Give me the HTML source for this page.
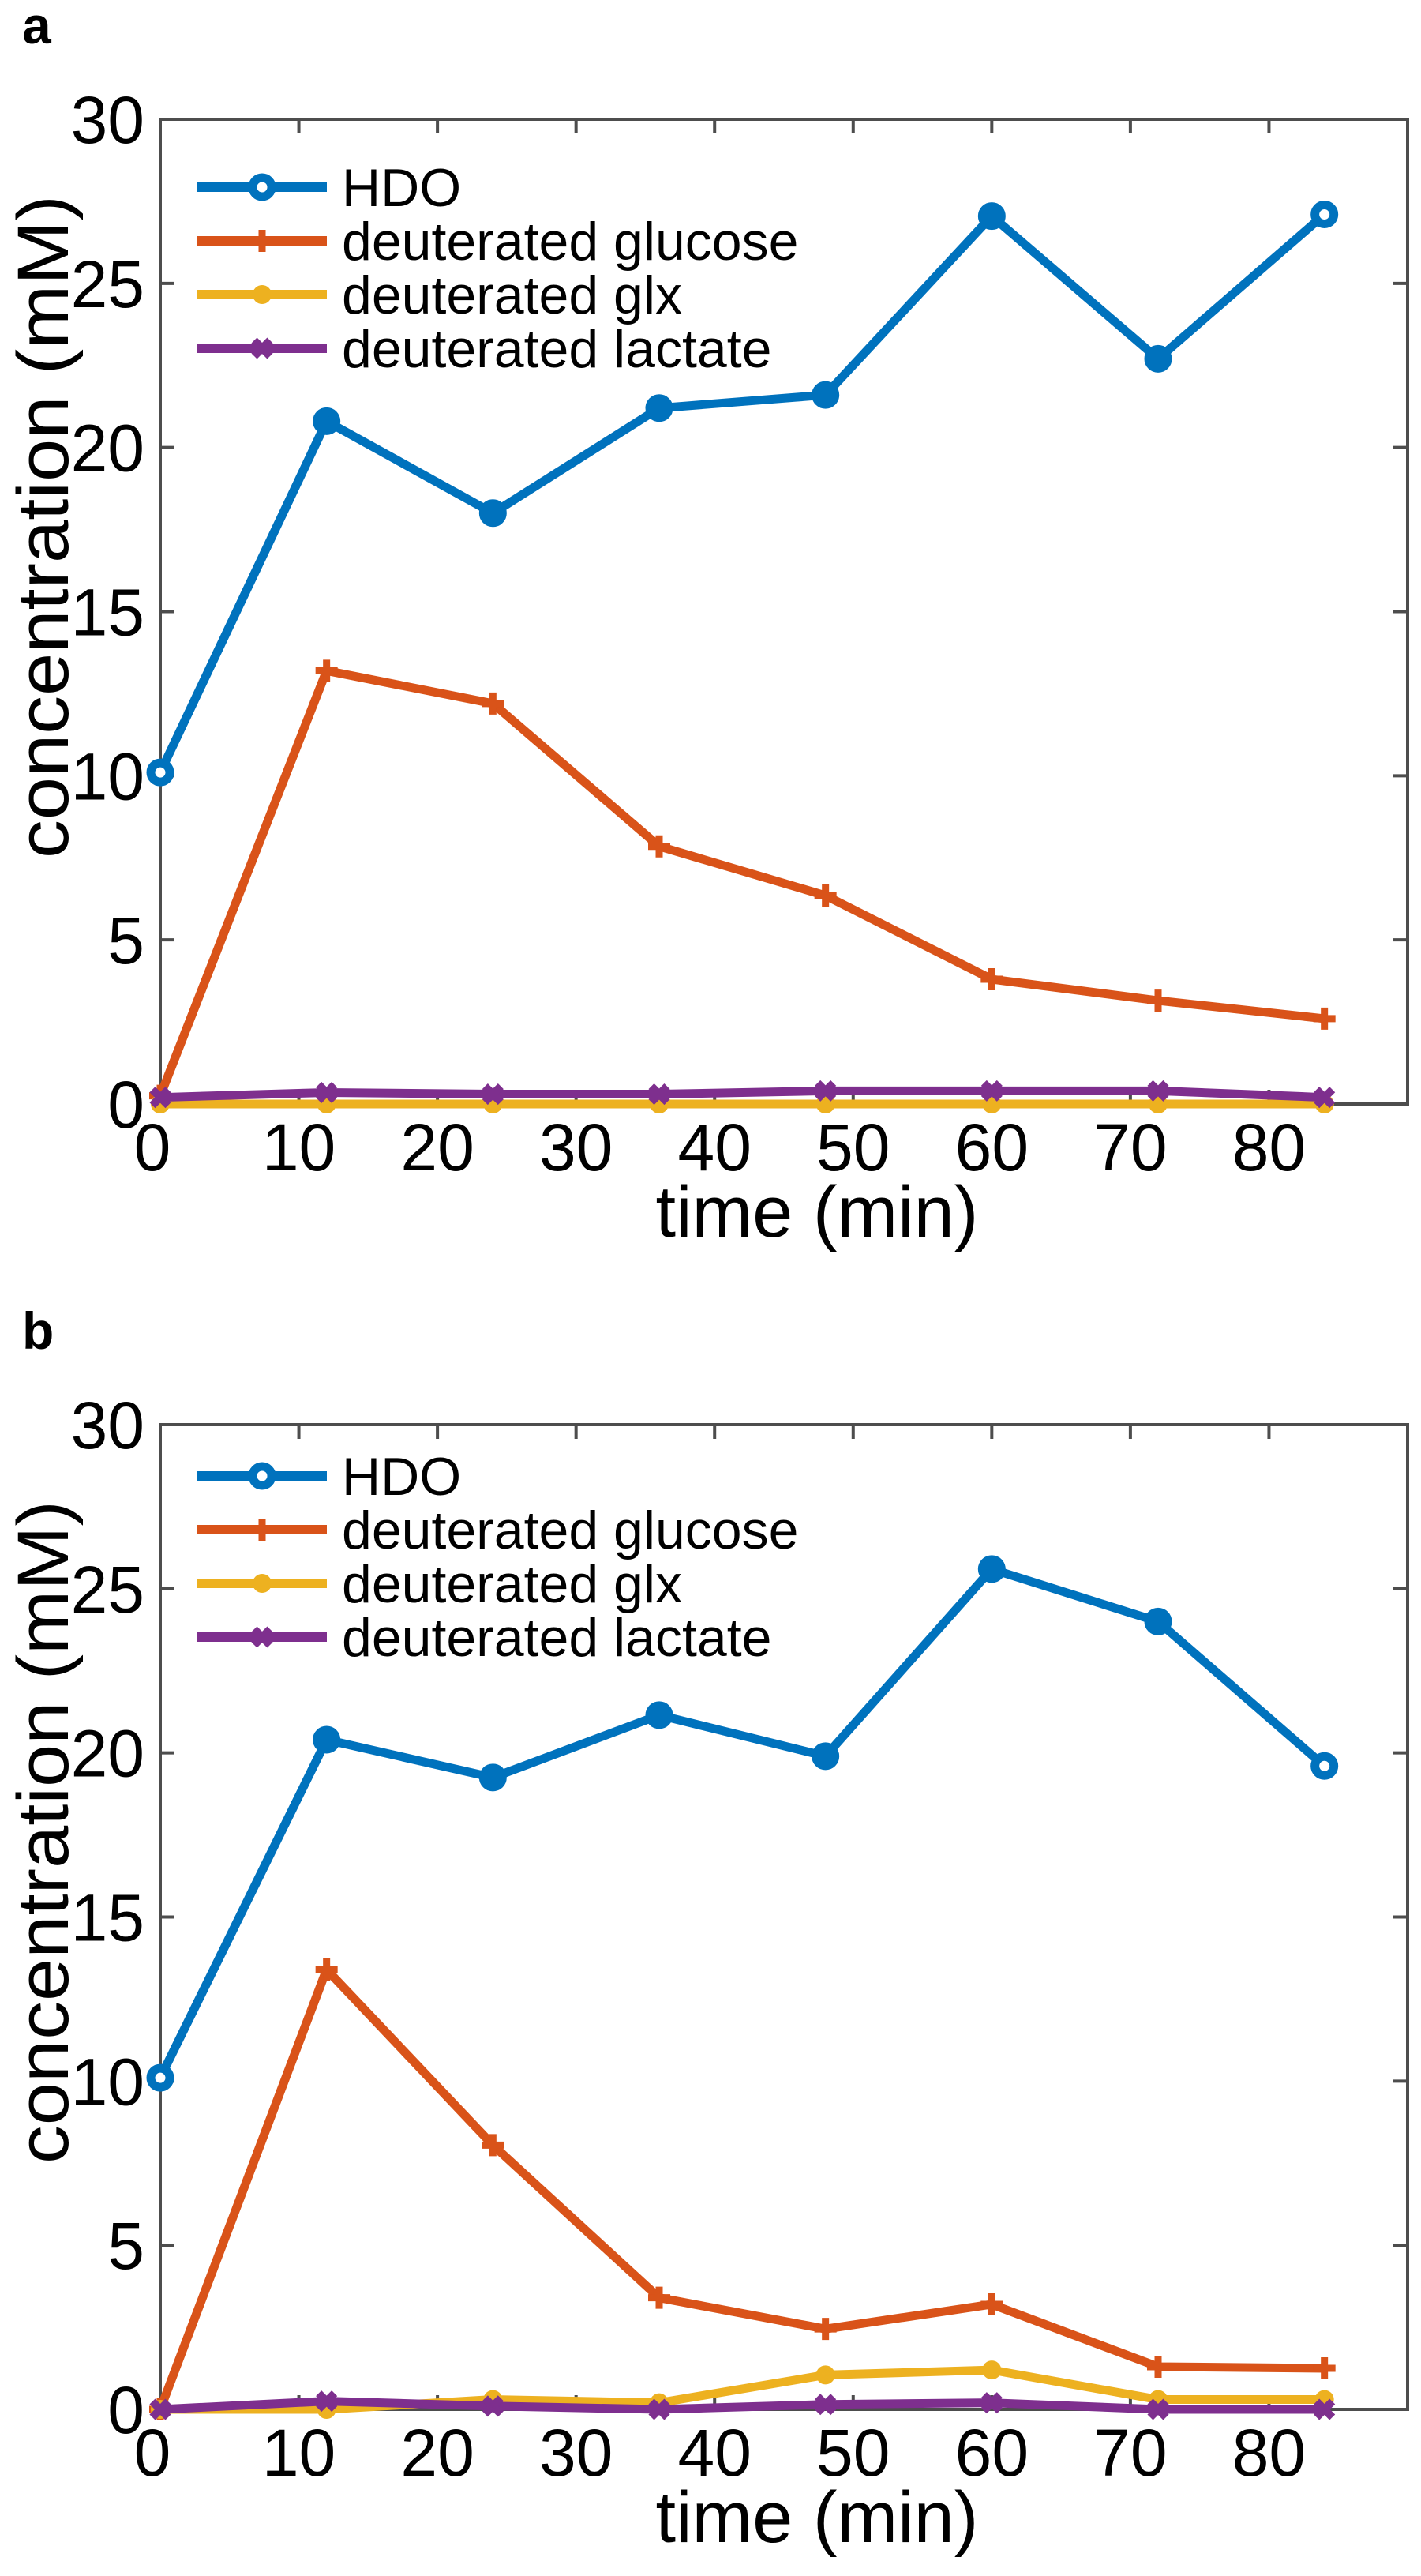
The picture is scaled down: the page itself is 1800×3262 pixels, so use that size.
<!DOCTYPE html>
<html><head><meta charset="utf-8"><style>
html,body{margin:0;padding:0;background:#fff;}
svg{display:block;font-family:"Liberation Sans",Arial,sans-serif;}
</style></head><body>
<svg id="fig" width="1800" height="3262" viewBox="0 0 1800 3262" xmlns="http://www.w3.org/2000/svg"></svg>
<script>
const times = [0, 12, 24, 36, 48, 60, 72, 84];
const seriesNames = ["HDO", "deuterated glucose", "deuterated glx", "deuterated lactate"];
const hdoA = [10.1, 20.8, 18.0, 21.2, 21.6, 27.05, 22.7, 27.1];
const glucoseA = [0.25, 13.2, 12.2, 7.85, 6.35, 3.8, 3.15, 2.6];
const glxA = [0, 0, 0, 0, 0, 0, 0, 0];
const lactateA = [0.2, 0.35, 0.3, 0.3, 0.4, 0.4, 0.4, 0.2];
const hdoB = [10.1, 20.4, 19.25, 21.15, 19.9, 25.6, 24.0, 19.6];
const glucoseB = [0, 13.4, 8.05, 3.4, 2.45, 3.2, 1.3, 1.25];
const glxB = [0, 0, 0.3, 0.2, 1.05, 1.2, 0.3, 0.3];
const lactateB = [0, 0.25, 0.1, 0, 0.15, 0.2, 0, 0];
const xTicks = [0, 10, 20, 30, 40, 50, 60, 70, 80];
const yTicks = [0, 5, 10, 15, 20, 25, 30];

const NS = "http://www.w3.org/2000/svg";
const svg = document.getElementById("fig");
const colors = ["#0072BD", "#D95319", "#EDB120", "#7E2F8E"];
function mk(tag, attrs, parent) {
  const e = document.createElementNS(NS, tag);
  for (const k in attrs) e.setAttribute(k, attrs[k]);
  (parent || svg).appendChild(e);
  return e;
}
function marker(g, kind, cx, cy, col, hollow) {
  let m;
  if (kind === 0) {
    m = mk("circle", {cx: cx, cy: cy, r: 12, fill: hollow ? "#fff" : col, stroke: col, "stroke-width": 11}, g);
  } else if (kind === 1) {
    m = mk("path", {d: `M${cx-14},${cy}H${cx+14}M${cx},${cy-14}V${cy+14}`, stroke: col, "stroke-width": 9}, g);
  } else if (kind === 2) {
    m = mk("circle", {cx: cx, cy: cy, r: 12, fill: col}, g);
  } else {
    m = mk("path", {d: `M${cx-10},${cy-10}L${cx+10},${cy+10}M${cx-10},${cy+10}L${cx+10},${cy-10}`, stroke: col, "stroke-width": 10}, g);
  }
  return m;
}

function panel(off, letter, data, legY, tag) {
  const L = 203, R = 1783, T = 151 + off, B = 1398 + off;
  const xs = v => L + (v - 0) / 90 * (R - L);
  const ys = v => B - v / 30 * (B - T);
  const g = mk("g", {});
  
  
  const lab = mk("text", {x: 28, y: 55 + off, "font-size": 66, "font-weight": "bold"}, g);
  lab.textContent = letter;
  
  
  const box = mk("rect", {x: L, y: T, width: R - L, height: B - T, fill: "none", stroke: "#4d4d4d", "stroke-width": 4}, g);
  
  
  xTicks.forEach(t => {
    const x = xs(t);
    const tk = mk("path", {d: `M${x},${B}V${B-18}M${x},${T}V${T+18}`, stroke: "#4d4d4d", "stroke-width": 4}, g);
    
    
    const tl = mk("text", {x: x - (t === 0 ? 10 : 0), y: B + 84, "font-size": 84, "text-anchor": "middle"}, g);
    tl.textContent = t;
    
    
  });
  yTicks.forEach(t => {
    const y = ys(t);
    const tk = mk("path", {d: `M${L},${y}H${L+18}M${R},${y}H${R-18}`, stroke: "#4d4d4d", "stroke-width": 4}, g);
    
    
    const tl = mk("text", {x: 183, y: y + 30, "font-size": 84, "text-anchor": "end"}, g);
    tl.textContent = t;
    
    
  });
  const xt = mk("text", {x: 1035, y: 1566 + off, "font-size": 92, "text-anchor": "middle"}, g);
  xt.textContent = "time (min)";
  
  
  const yt = mk("text", {x: 0, y: 0, "font-size": 92, "text-anchor": "middle", textLength: 840, lengthAdjust: "spacingAndGlyphs", transform: `translate(86,${667 + off}) rotate(-90)`}, g);
  yt.textContent = "concentration (mM)";
  
  
  data.forEach((vals, si) => {
    const sg = mk("g", {}, g);
    
    
    const pts = vals.map((v, i) => `${xs(times[i])},${ys(v)}`).join(" ");
    mk("polyline", {points: pts, fill: "none", stroke: colors[si], "stroke-width": 11, "stroke-linejoin": "round"}, sg);
    vals.forEach((v, i) => {
      const m = marker(sg, si, xs(times[i]), ys(v), colors[si], i === 0 || i === vals.length - 1);
      
      
    });
  });
  const lg = mk("g", {}, g);
  
  
  seriesNames.forEach((n, si) => {
    const y = legY + off + si * 68;
    const eg = mk("g", {}, lg);
    
    
    mk("path", {d: `M250,${y}H414`, stroke: colors[si], "stroke-width": 12}, eg);
    marker(eg, si, 332, y, colors[si], true);
    const t = mk("text", {x: 433, y: y + 24, "font-size": 68}, eg);
    t.textContent = n;
  });
}
panel(0, "a", [hdoA, glucoseA, glxA, lactateA], 237, "a");
panel(1653, "b", [hdoB, glucoseB, glxB, lactateB], 216, "b");
</script>
</body></html>
